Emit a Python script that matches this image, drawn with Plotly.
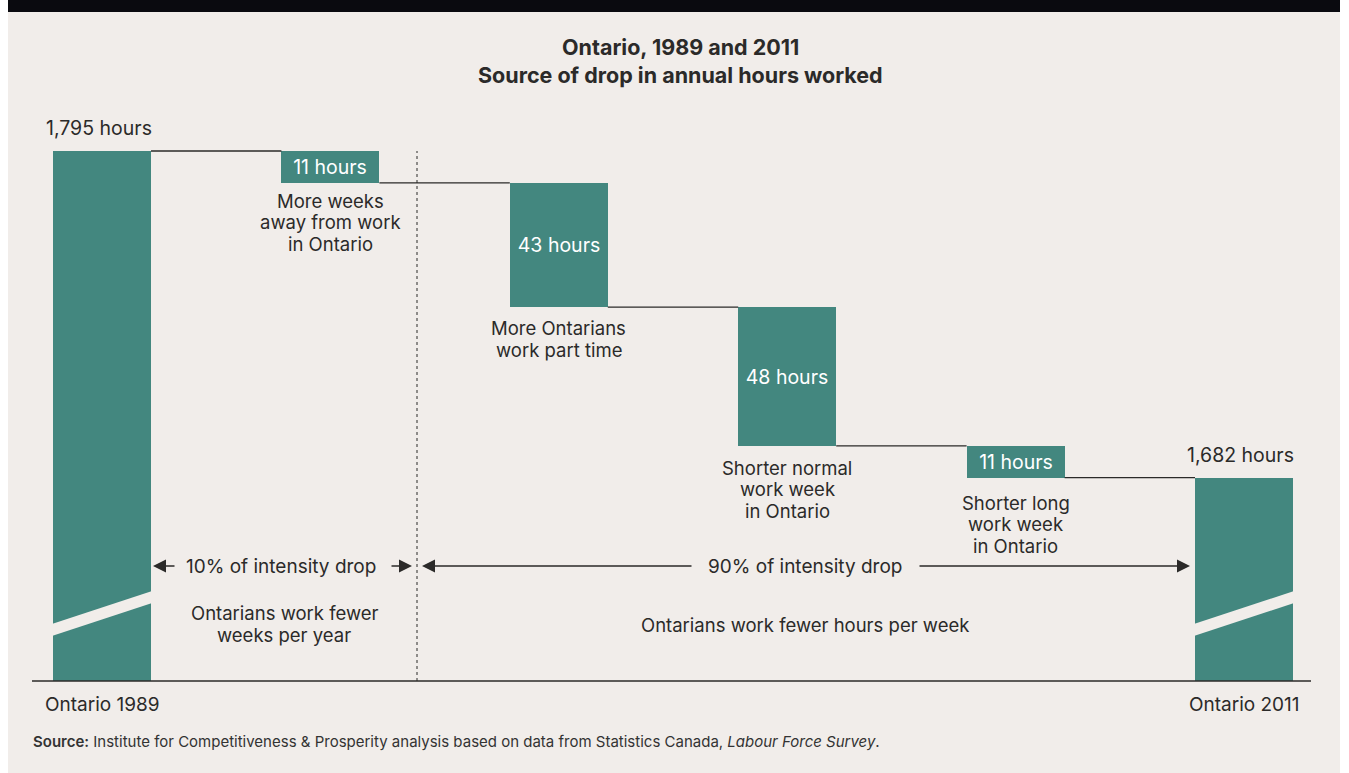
import plotly.graph_objects as go

W, H = 1349, 773

# data
start_label = "Ontario 1989"
end_label = "Ontario 2011"
start_hours = 1795
end_hours = 1682
drops = [11, 43, 48, 11]
drop_labels = [
    ["More weeks", "away from work", "in Ontario"],
    ["More Ontarians", "work part time"],
    ["Shorter normal", "work week", "in Ontario"],
    ["Shorter long", "work week", "in Ontario"],
]
share_labels = ["10% of intensity drop", "90% of intensity drop"]
group_labels = [["Ontarians work fewer", "weeks per year"], ["Ontarians work fewer hours per week"]]
title_lines = ["Ontario, 1989 and 2011", "Source of drop in annual hours worked"]

TEAL = "#43877f"
BG = "#f1edea"
INK = "#2b2a29"
FONT = "Inter"

# geometry: first bar centre / spacing in px, px per hour, broken-axis floor
X0_PX, STEP_PX = 102, 228.4
PX_PER_H = 2.89
TOP_PX = 151          # where the first bar's top sits
BASE_PX = 681         # baseline
Y_TOP = start_hours + TOP_PX / PX_PER_H
FLOOR = Y_TOP - BASE_PX / PX_PER_H
BAR_W = 98 / STEP_PX
LINE = 21.5           # line spacing for wrapped labels


def px_x(p):
    return (p - X0_PX) / STEP_PX


def px_y(p):
    return Y_TOP - p / PX_PER_H


n = len(drops) + 2
xs = list(range(n))
levels = [start_hours]
for d in drops:
    levels.append(levels[-1] - d)

bases = [FLOOR] + levels[1:] + [FLOOR]
heights = [start_hours - FLOOR] + drops + [end_hours - FLOOR]
texts = [""] + ["%d hours" % d for d in drops] + [""]

fig = go.Figure()

fig.add_trace(go.Bar(
    x=xs, y=heights, base=bases, width=BAR_W,
    marker=dict(color=TEAL, line=dict(width=0)),
    text=texts, textposition="inside", insidetextanchor="middle",
    textfont=dict(color="white", size=19.5, family=FONT),
    hoverinfo="skip", cliponaxis=False,
))

# connectors between bars
cx, cy = [], []
for i in range(n - 1):
    cx += [i + BAR_W / 2, i + 1 - BAR_W / 2, None]
    cy += [levels[i], levels[i], None]
fig.add_trace(go.Scatter(x=cx, y=cy, mode="lines", line=dict(color=INK, width=1.3),
                         hoverinfo="skip"))

# axis-break stripes on the two total bars
a, b, t = (BASE_PX - 636) / PX_PER_H, (BASE_PX - 603) / PX_PER_H, 12 / PX_PER_H
for i in (0, n - 1):
    l, r = i - BAR_W / 2 - 0.005, i + BAR_W / 2 + 0.005
    fig.add_trace(go.Scatter(
        x=[l, r, r, l, l],
        y=[FLOOR + a, FLOOR + b, FLOOR + b + t, FLOOR + a + t, FLOOR + a],
        mode="lines", fill="toself", fillcolor=BG, line=dict(width=0),
        hoverinfo="skip"))

shapes = [
    dict(type="rect", xref="paper", yref="paper", x0=8 / W, x1=1340 / W, y0=0, y1=1,
         fillcolor=BG, line=dict(width=0), layer="below"),
    dict(type="rect", xref="paper", yref="paper", x0=8 / W, x1=1340 / W, y0=1 - 12 / H, y1=1,
         fillcolor="#0a0a0f", line=dict(width=0), layer="above"),
    dict(type="line", x0=px_x(32), x1=px_x(1311), y0=FLOOR, y1=FLOOR,
         line=dict(color=INK, width=1.3), layer="above"),
    dict(type="line", x0=px_x(417), x1=px_x(417), y0=FLOOR, y1=start_hours,
         line=dict(color=INK, width=1, dash="dot"), layer="above"),
]

ann = []


def lines_at(x, y, lines, first_shift, size=18.5, **kw):
    for k, line in enumerate(lines):
        ann.append(dict(x=x, y=y, text=line, showarrow=False, yanchor="middle",
                        yshift=-(first_shift + k * LINE),
                        font=dict(family=FONT, size=size, color=INK), **kw))


# totals
for i, v in ((0, start_hours), (n - 1, end_hours)):
    lines_at(i - 0.015, v, ["{:,} hours".format(v)], -23, size=19.5)
for i, lab in ((0, start_label), (n - 1, end_label)):
    lines_at(i, FLOOR, [lab], 23, size=19)

# drop descriptions
gaps = [18, 21, 22, 25]
for i, lab in enumerate(drop_labels):
    lines_at(i + 1, levels[i + 1], lab, gaps[i])

# intensity arrows
ya = px_y(566)
for tip, tail in ((153, 176), (412, 390), (422, 693), (1190, 918)):
    ann.append(dict(x=px_x(tip), y=ya, ax=px_x(tail), ay=ya, axref="x", ayref="y",
                    text="", showarrow=True, arrowhead=2, arrowsize=2.0, arrowwidth=1.3,
                    arrowcolor=INK))
lines_at(px_x(281), ya, [share_labels[0]], 0, size=19)
lines_at(px_x(805), ya, [share_labels[1]], 0, size=19)

lines_at(px_x(284), px_y(613), group_labels[0], 0)
lines_at(px_x(805), px_y(625), group_labels[1], 0)

# title and source
for k, line in enumerate(title_lines):
    ann.append(dict(xref="paper", yref="paper", x=680 / W, y=1 - (47 + 28 * k) / H,
                    showarrow=False, yanchor="middle", text="<b>%s</b>" % line,
                    font=dict(family=FONT, size=21.5, color=INK)))
ann.append(dict(xref="paper", yref="paper", x=31 / W, y=1 - 741 / H, xanchor="left",
                yanchor="middle", showarrow=False,
                text="<span style='font-weight:600'>Source:</span> Institute for Competitiveness "
                     "& Prosperity analysis based on data from Statistics Canada, "
                     "<i>Labour Force Survey</i>.",
                font=dict(family=FONT, size=15, color="#333333")))

fig.update_layout(
    width=W, height=H, margin=dict(l=0, r=0, t=0, b=0),
    paper_bgcolor="white", plot_bgcolor="rgba(0,0,0,0)",
    showlegend=False, shapes=shapes, annotations=ann,
    xaxis=dict(range=[px_x(0), px_x(W)], visible=False, fixedrange=True),
    yaxis=dict(range=[px_y(H), px_y(0)], visible=False, fixedrange=True),
    bargap=0,
)

fig.write_html("out.html", config={"displayModeBar": False},
               post_script="document.body.style.margin='0px';")
